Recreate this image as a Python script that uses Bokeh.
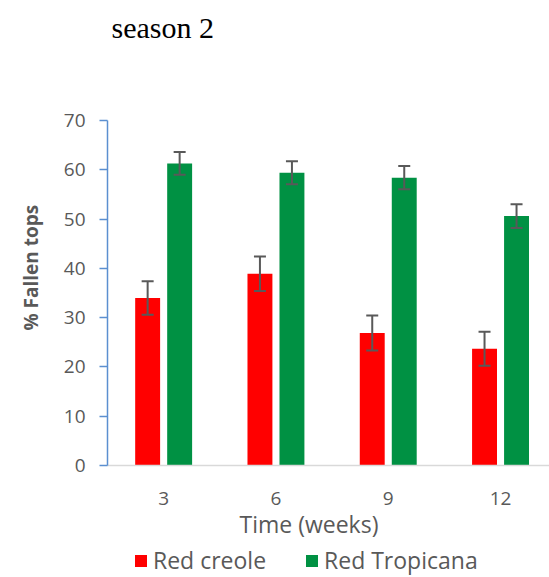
from bokeh.plotting import figure
from bokeh.layouts import column
from bokeh.models import (ColumnDataSource, Range1d, FixedTicker, Whisker, Legend,
                          LegendItem, TeeHead, Title)
from bokeh.embed import file_html
from bokeh.resources import INLINE

# ---- data ----
weeks = ["3", "6", "9", "12"]
series_names = ["Red creole", "Red Tropicana"]
red_creole = [34.0, 38.9, 26.9, 23.7]
red_creole_err = [3.4, 3.5, 3.55, 3.45]
red_tropicana = [61.3, 59.4, 58.4, 50.6]
red_tropicana_err = [2.3, 2.35, 2.35, 2.4]
y_ticks = [0, 10, 20, 30, 40, 50, 60, 70]

RED = "#FF0000"
GREEN = "#009143"
TXT = "#595959"
FONT = "Open Sans"

centers = [i + 0.5 for i in range(len(weeks))]
offset = 0.1425
bar_w = 0.222

src_r = ColumnDataSource(dict(
    x=[c - offset for c in centers], top=red_creole,
    upper=[v + e for v, e in zip(red_creole, red_creole_err)],
    lower=[v - e for v, e in zip(red_creole, red_creole_err)]))
src_g = ColumnDataSource(dict(
    x=[c + offset for c in centers], top=red_tropicana,
    upper=[v + e for v, e in zip(red_tropicana, red_tropicana_err)],
    lower=[v - e for v, e in zip(red_tropicana, red_tropicana_err)]))

p = figure(width=549, height=545, output_backend="svg", toolbar_location=None,
           x_range=Range1d(0, 3.936), y_range=Range1d(0, 70),
           min_border_left=107, min_border_right=0, min_border_top=120,
           min_border_bottom=80, outline_line_color=None,
           title="season 2")

p.title.text_font = "Liberation Serif"
p.title.text_font_size = "30px"
p.title.text_font_style = "normal"
p.title.text_color = "#000000"
p.title.align = "left"
p.title.offset = 4
p.title.standoff = 14

# empty spacer between title and plot area
spacer = Title(text=" ", text_font_size="2px", standoff=66)
p.add_layout(spacer, "above")

r1 = p.vbar(x="x", top="top", width=bar_w, source=src_r, fill_color=RED, line_color=None)
r2 = p.vbar(x="x", top="top", width=bar_w, source=src_g, fill_color=GREEN, line_color=None)

for s in (src_r, src_g):
    w = Whisker(base="x", upper="upper", lower="lower", source=s, level="overlay",
                line_color=TXT, line_width=2,
                upper_head=TeeHead(size=12, line_color=TXT, line_width=2),
                lower_head=TeeHead(size=12, line_color=TXT, line_width=2))
    p.add_layout(w)

p.xgrid.visible = False
p.ygrid.visible = False

# x axis
p.xaxis.ticker = FixedTicker(ticks=centers)
p.xaxis.major_label_overrides = {c: w for c, w in zip(centers, weeks)}
p.xaxis.major_tick_line_color = None
p.xaxis.minor_tick_line_color = None
p.xaxis.axis_line_color = "#D9D9D9"
p.xaxis.axis_line_width = 1.5
p.xaxis.major_label_standoff = 20
p.xaxis.major_label_text_font = FONT
p.xaxis.major_label_text_font_size = "19px"
p.xaxis.major_label_text_color = TXT

xtitle = Title(text="Time (weeks)", align="left", offset=132, standoff=0,
               vertical_align="top", text_font=FONT, text_font_size="23px",
               text_font_style="normal", text_color=TXT)
p.add_layout(xtitle, "below")

# y axis
p.yaxis.ticker = FixedTicker(ticks=y_ticks)
p.yaxis.minor_tick_line_color = None
p.yaxis.axis_line_color = "#5B8FD0"
p.yaxis.axis_line_width = 1.5
p.yaxis.major_tick_line_color = "#5B8FD0"
p.yaxis.major_tick_line_width = 1.5
p.yaxis.major_tick_out = 8
p.yaxis.major_tick_in = 0
p.yaxis.major_label_standoff = 14
p.yaxis.major_label_text_font = FONT
p.yaxis.major_label_text_font_size = "19px"
p.yaxis.major_label_text_color = TXT

ytitle = Title(text="% Fallen tops", align="left", offset=135, standoff=30,
               vertical_align="top",
               text_font=FONT, text_font_size="19px", text_font_style="bold",
               text_color=TXT)
p.add_layout(ytitle, "left")

# legend strip below the chart
p2 = figure(width=549, height=32, output_backend="svg", toolbar_location=None,
            x_range=Range1d(0, 1), y_range=Range1d(0, 1),
            min_border=0, outline_line_color=None,
            x_axis_location=None, y_axis_location=None)
p2.xgrid.visible = False
p2.ygrid.visible = False
lr1 = p2.vbar(x="x", top="top", width=bar_w, source=src_r,
              fill_color=RED, line_color=None, visible=False)
lr2 = p2.vbar(x="x", top="top", width=bar_w, source=src_g,
              fill_color=GREEN, line_color=None, visible=False)
legend = Legend(items=[LegendItem(label=series_names[0], renderers=[lr1]),
                       LegendItem(label=series_names[1], renderers=[lr2])],
                orientation="horizontal", location=(26, 1),
                glyph_width=15, glyph_height=15, spacing=38, padding=0, margin=0,
                label_text_font=FONT, label_text_font_size="23px",
                label_text_color=TXT, border_line_color=None,
                background_fill_alpha=0, label_standoff=5,
                inactive_fill_alpha=0, click_policy="none")
p2.add_layout(legend, "center")

layout = column(p, p2, spacing=0)
open("out.html", "w").write(file_html(layout, INLINE))
